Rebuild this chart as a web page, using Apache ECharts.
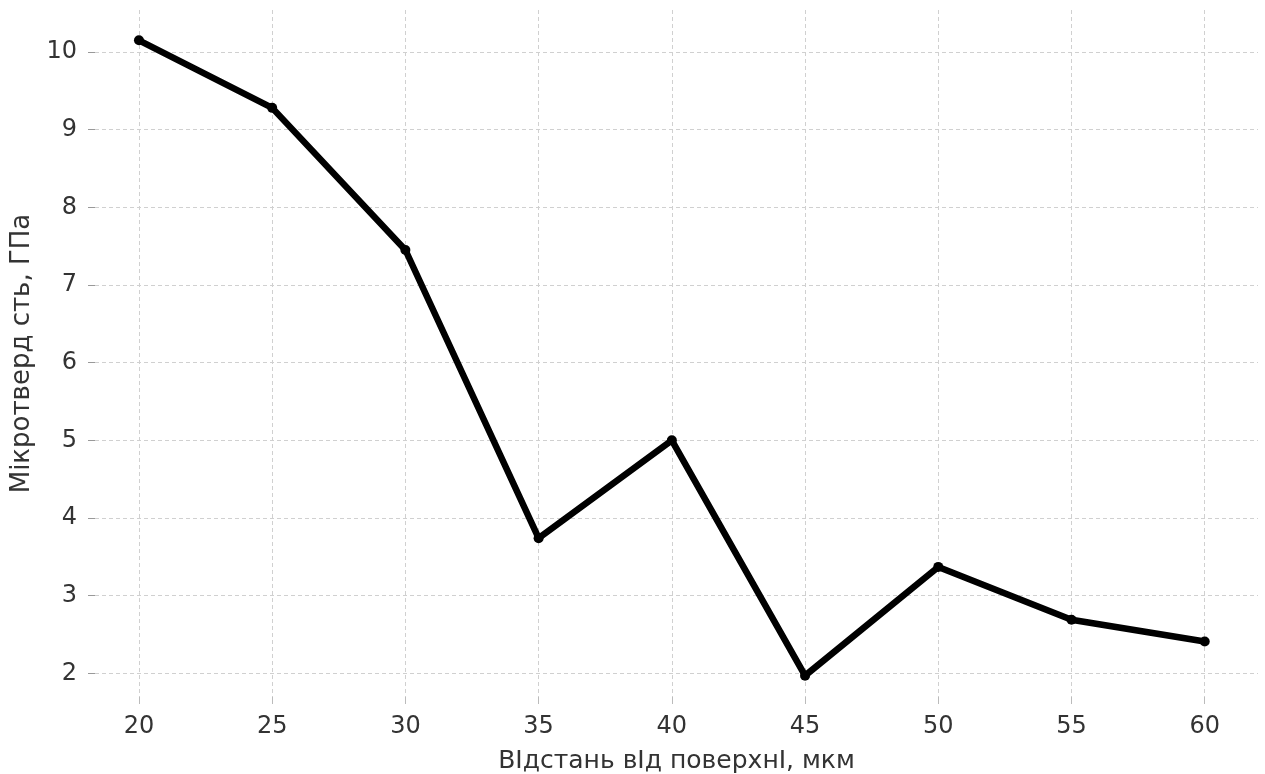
<!DOCTYPE html>
<html>
<head>
<meta charset="utf-8">
<script src="https://cdn.jsdelivr.net/npm/echarts@6/dist/echarts.min.js"></script>
<style>html,body{margin:0;padding:0;background:#fff}#c{width:1265px;height:774px}</style>
</head>
<body>
<div id="c"></div>
<script>
const distances = [20, 25, 30, 35, 40, 45, 50, 55, 60];
const hardness = [10.15, 9.28, 7.45, 3.74, 5.00, 1.97, 3.37, 2.69, 2.41];
const xTicks = [20, 25, 30, 35, 40, 45, 50, 55, 60];
const yTicks = [2, 3, 4, 5, 6, 7, 8, 9, 10];
const xTitle = 'ВІдстань вІд поверхнІ, мкм';
const yTitle = 'Мікротверд сть, ГПа';

const chart = echarts.init(document.getElementById('c'), null, {renderer: 'canvas'});
const font = 'DejaVu Sans';
chart.setOption({
  animation: false,
  backgroundColor: '#fff',
  grid: {left: 95, right: 7, top: 10, bottom: 77, containLabel: false, outerBoundsMode: 'none'},
  xAxis: {
    type: 'value', min: 18.35, max: 62,
    name: xTitle, nameLocation: 'middle', nameGap: 52,
    nameTextStyle: {fontFamily: font, fontSize: 25, color: '#333'},
    axisLine: {show: false},
    axisTick: {show: true, customValues: xTicks, length: 7, lineStyle: {color: '#bbb'}},
    axisLabel: {customValues: xTicks, margin: 18, fontFamily: font, fontSize: 24, color: '#333'},
    splitLine: {show: true, lineStyle: {color: '#d0d0d0', type: [4, 3], width: 1}}
  },
  yAxis: {
    type: 'value', min: 1.695, max: 10.54,
    name: yTitle, nameLocation: 'middle', nameGap: 58,
    nameTextStyle: {fontFamily: font, fontSize: 26, color: '#333'},
    axisLine: {show: false},
    axisTick: {show: true, customValues: yTicks, length: 7, lineStyle: {color: '#999'}},
    axisLabel: {customValues: yTicks, margin: 18, fontFamily: font, fontSize: 24, color: '#333'},
    splitLine: {show: true, lineStyle: {color: '#d0d0d0', type: [4, 3], width: 1}}
  },
  series: [{
    type: 'line',
    data: distances.map((d, i) => [d, hardness[i]]),
    symbol: 'circle', symbolSize: 10,
    lineStyle: {color: '#000', width: 6.5},
    itemStyle: {color: '#000'}
  }]
});
</script>
</body>
</html>
